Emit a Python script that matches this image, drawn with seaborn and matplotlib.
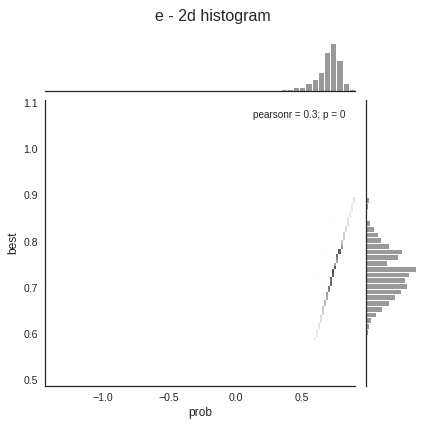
import numpy as np
import seaborn as sns
import matplotlib
matplotlib.use("Agg")
import matplotlib.pyplot as plt

# joint data: cells along the thin diagonal band (prob, best, count)
line_prob = [0.598, 0.604, 0.610, 0.616, 0.622, 0.628, 0.634, 0.640, 0.646, 0.652,
             0.658, 0.664, 0.670, 0.676, 0.682, 0.688, 0.694, 0.700, 0.706, 0.712,
             0.718, 0.724, 0.730, 0.735, 0.741, 0.747, 0.753, 0.759, 0.765, 0.771,
             0.777, 0.783, 0.789, 0.795, 0.801, 0.807, 0.813, 0.819, 0.825, 0.831,
             0.837, 0.843, 0.849, 0.855, 0.861, 0.867, 0.873, 0.879, 0.885, 0.891]
line_best = [0.590, 0.596, 0.602, 0.609, 0.615, 0.621, 0.627, 0.633, 0.640, 0.646,
             0.652, 0.658, 0.664, 0.671, 0.677, 0.683, 0.689, 0.695, 0.702, 0.708,
             0.714, 0.720, 0.726, 0.733, 0.739, 0.745, 0.751, 0.757, 0.764, 0.770,
             0.776, 0.782, 0.788, 0.795, 0.801, 0.807, 0.813, 0.819, 0.826, 0.832,
             0.838, 0.844, 0.850, 0.857, 0.863, 0.869, 0.875, 0.881, 0.888, 0.894]
line_count = [14, 14, 15, 16, 17, 18, 20, 22, 24, 27,
              30, 33, 36, 40, 42, 45, 48, 52, 60, 66,
              62, 66, 70, 72, 75, 70, 45, 42, 55, 62,
              70, 66, 50, 40, 34, 30, 28, 26, 24, 22,
              20, 19, 18, 18, 18, 18, 18, 18, 19, 19]

# faint scatter to the left of the band, plus the extreme values
cloud_prob = [0.55, 0.50, 0.45, 0.40, 0.35, 0.33, 0.36, 0.42, 0.48, 0.54,
              0.60, 0.55, 0.50, 0.45, 0.52, 0.58, 0.62, 0.66, 0.70, 0.64,
              -1.43, 0.60, 0.70, 0.897]
cloud_best = [0.86, 0.83, 0.80, 0.78, 0.75, 0.72, 0.69, 0.66, 0.63, 0.60,
              0.82, 0.77, 0.74, 0.71, 0.68, 0.65, 0.72, 0.78, 0.85, 0.70,
              0.70, 1.1065, 0.487, 0.89]
cloud_count = [3, 3, 2, 2, 2, 2, 2, 2, 3, 3,
               3, 3, 3, 3, 3, 3, 4, 4, 4, 4,
               1, 1, 1, 2]

# marginal histogram counts (50 bins each)
prob_counts = [1] + [0] * 32 + [2, 2, 2, 2, 2, 5, 5, 11, 13, 23, 35, 56, 116, 143, 92, 23, 5]
best_counts = ([1] + [0] * 6 +
               [1, 4, 6, 10, 16, 31, 50, 70, 89, 107, 123, 118, 131, 152, 65, 98, 110,
                70, 46, 36, 26, 14, 2, 3, 6, 10] + [0] * 16 + [1])

prob = line_prob + cloud_prob
best = line_best + cloud_best
count = line_count + cloud_count

sns.set_style("white")
plt.rcParams["font.family"] = ["Liberation Sans", "DejaVu Sans"]
plt.rcParams["text.color"] = ".15"
plt.rcParams["axes.labelcolor"] = ".15"
plt.rcParams["xtick.color"] = ".15"
plt.rcParams["ytick.color"] = ".15"
plt.rcParams["axes.edgecolor"] = ".15"
plt.rcParams["axes.linewidth"] = 1.25

fig = plt.figure(figsize=(425 / 72, 428 / 72), dpi=72)
ax_joint = fig.add_axes([0.1059, 0.0981, 0.7294, 0.6682])
ax_top = fig.add_axes([0.1059, 0.7874, 0.7294, 0.1168], sharex=ax_joint)
ax_right = fig.add_axes([0.8605, 0.0981, 0.1252, 0.6682], sharey=ax_joint)

xmin, xmax = min(prob), max(prob)
ymin, ymax = min(best), max(best)

# 2d histogram
sns.histplot(x=prob, y=best, weights=count, bins=(150, 100),
             binrange=((xmin, xmax), (ymin, ymax)), cmap="Greys",
             vmin=0, vmax=max(count) * 1.3, ax=ax_joint)

# marginals
xedges = np.linspace(xmin, xmax, 51)
yedges = np.linspace(ymin, ymax, 51)
xcent = list((xedges[:-1] + xedges[1:]) / 2)
ycent = list((yedges[:-1] + yedges[1:]) / 2)
sns.histplot(x=xcent, weights=prob_counts, bins=50, binrange=(xmin, xmax),
             color="k", alpha=0.4, edgecolor="white", linewidth=1, ax=ax_top)
sns.histplot(y=ycent, weights=best_counts, bins=50, binrange=(ymin, ymax),
             color="k", alpha=0.4, edgecolor="white", linewidth=1, ax=ax_right)

ax_joint.set_xlim(xmin, xmax)
ax_joint.set_ylim(ymin, ymax)
ax_joint.set_xlabel("prob", fontsize=12)
ax_joint.set_ylabel("best", fontsize=12)
ax_joint.tick_params(labelsize=10.5, length=0, pad=7)
ax_joint.text(0.968, 0.948, "pearsonr = 0.3; p = 0", transform=ax_joint.transAxes,
              ha="right", va="center", fontsize=10)

for ax in (ax_top, ax_right):
    ax.set_xlabel("")
    ax.set_ylabel("")
    ax.tick_params(left=False, bottom=False, labelleft=False, labelbottom=False)
ax_top.set_yticks([])
ax_right.set_xticks([])

sns.despine(ax=ax_joint)
sns.despine(ax=ax_top, left=True)
sns.despine(ax=ax_right, bottom=True)

fig.suptitle("e - 2d histogram", fontsize=16, y=0.98)

fig.savefig("out.png", dpi=72)
